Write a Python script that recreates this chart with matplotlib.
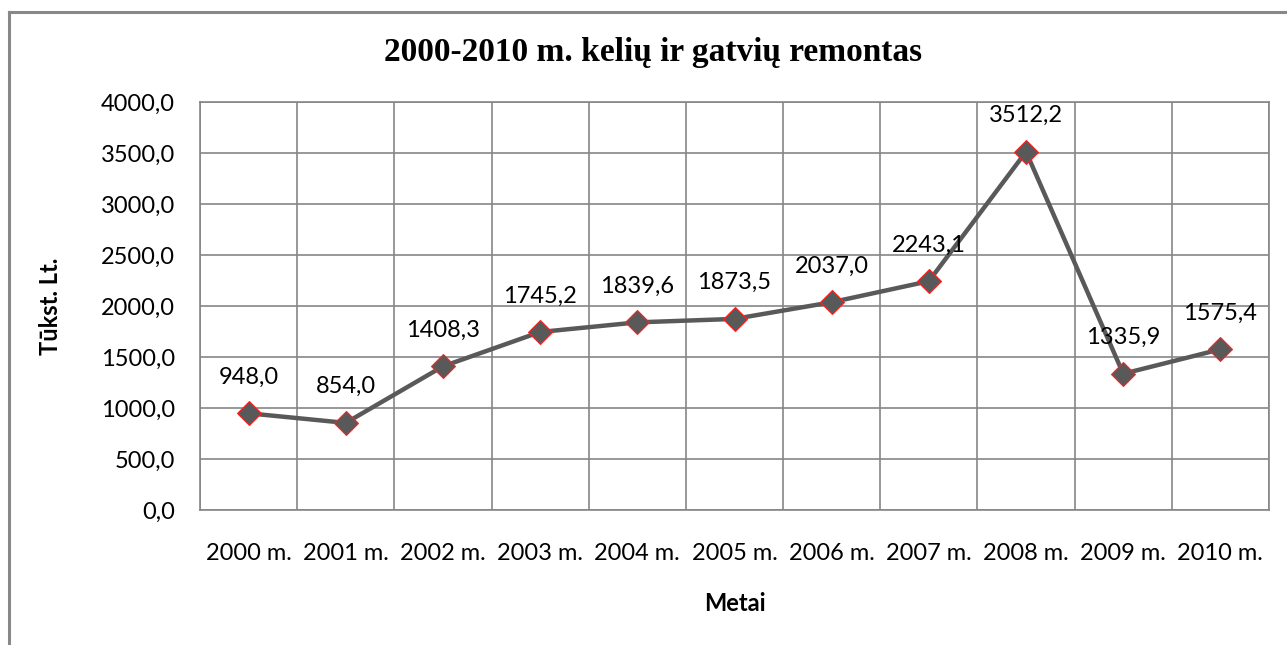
import numpy as np
import matplotlib.pyplot as plt
from matplotlib.lines import Line2D

years = ['2000 m.', '2001 m.', '2002 m.', '2003 m.', '2004 m.', '2005 m.',
         '2006 m.', '2007 m.', '2008 m.', '2009 m.', '2010 m.']
values = [948.0, 854.0, 1408.3, 1745.2, 1839.6, 1873.5, 2037.0, 2243.1, 3512.2, 1335.9, 1575.4]
y_ticks = [0, 500, 1000, 1500, 2000, 2500, 3000, 3500, 4000]

W, H = 1287, 645
fig = plt.figure(figsize=(W / 100, H / 100), dpi=100)

# plot area in pixels: left 200, right 1269, top 102, bottom 510
ax = fig.add_axes([200 / W, 1 - 510 / H, 1069 / W, 408 / H])

grid_c = '#868686'
fs = 17
x = np.arange(len(years))
ax.plot(x, values, color='#595959', lw=3.2, zorder=3)
ax.plot(x, values, ls='none', marker='D', ms=12, mfc='#595959', mec='#ff2020', mew=0.8, zorder=4)

for xi, v in zip(x, values):
    ax.annotate(f'{v:.1f}'.replace('.', ','), (xi, v), xytext=(0, 26), textcoords='offset points',
                ha='center', va='center', fontsize=fs, family='Lato', color='black')

ax.set_xlim(-0.5, len(years) - 0.5)
ax.set_ylim(0, 4000)
ax.set_yticks(y_ticks)
ax.set_yticklabels([f'{t:.1f}'.replace('.', ',') for t in y_ticks], fontsize=fs, family='Lato')
ax.set_xticks(x)
ax.set_xticklabels(years, fontsize=fs, family='Lato')
ax.set_xticks(np.arange(len(years) + 1) - 0.5, minor=True)
ax.tick_params(axis='both', which='both', length=0)
ax.tick_params(axis='y', pad=18)
ax.tick_params(axis='x', pad=24)

ax.grid(True, axis='y', which='major', color=grid_c, lw=1.2)
ax.grid(True, axis='x', which='minor', color=grid_c, lw=1.2)
ax.grid(False, axis='x', which='major')
for s in ax.spines.values():
    s.set_color(grid_c)
    s.set_linewidth(1.2)

ax.set_ylabel('Tūkst. Lt.', fontsize=fs, family='Lato', fontweight='bold', labelpad=28)
ax.set_xlabel('Metai', fontsize=fs, family='Lato', fontweight='bold', labelpad=20)

fig.text(653 / W, 1 - 52 / H, '2000-2010 m. kelių ir gatvių remontas', ha='center', va='center',
         fontsize=24, family='Liberation Serif', fontweight='bold')

# chart frame (only top and left edges are visible)
fig.add_artist(Line2D([9 / W, 1], [1 - 12 / H, 1 - 12 / H], color='#888888', lw=2.2))
fig.add_artist(Line2D([9 / W, 9 / W], [0, 1 - 12 / H], color='#888888', lw=2.2))

fig.savefig('out.png', dpi=100)
